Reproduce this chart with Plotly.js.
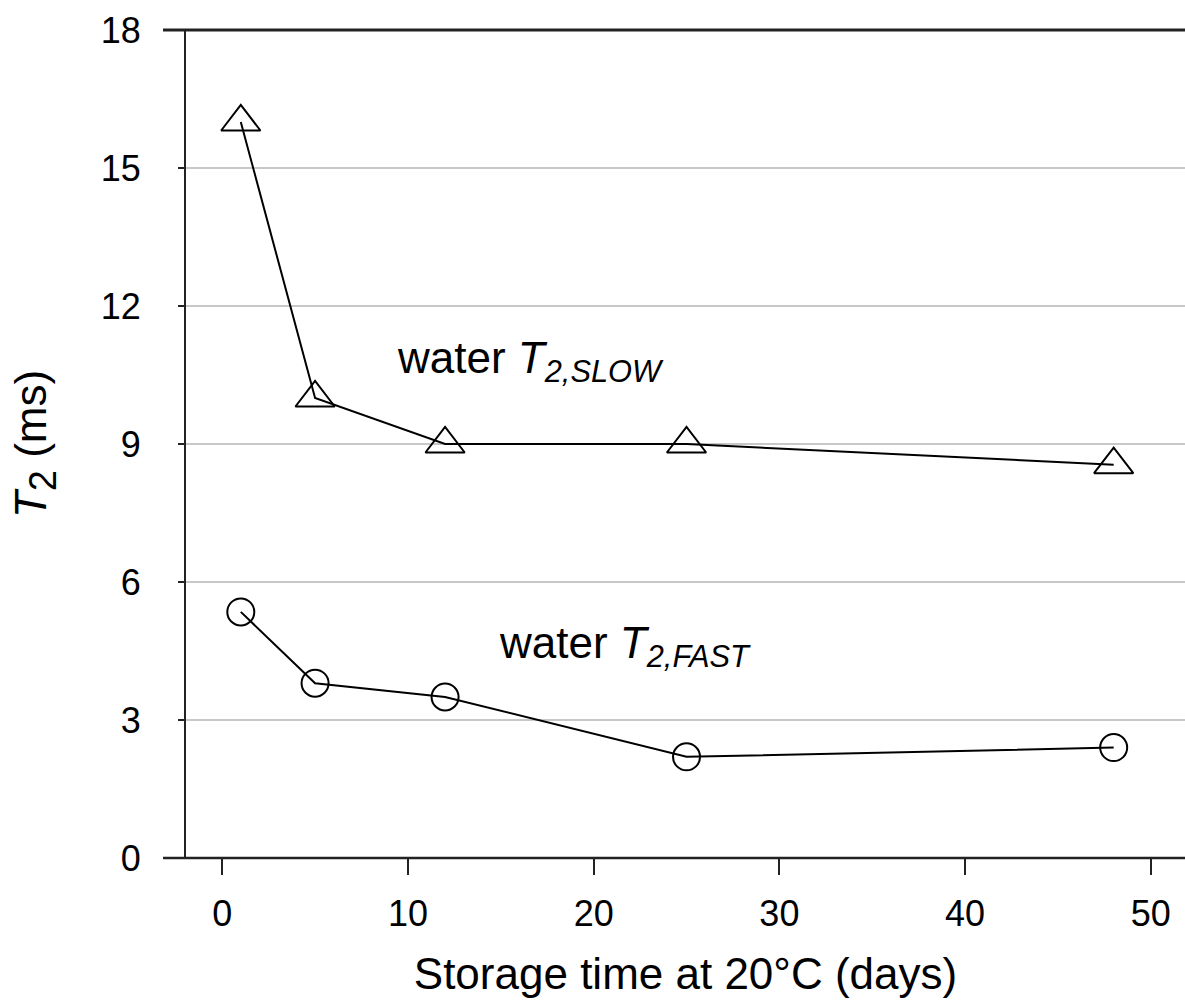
<!DOCTYPE html>
<html>
<head>
<meta charset="utf-8">
<script src="https://cdn.plot.ly/plotly-3.0.1.min.js"></script>
<style>html,body{margin:0;padding:0;background:#fff;}#chart{width:1185px;height:1008px;}</style>
</head>
<body>
<div id="chart"></div>
<script>
const days = [1, 5, 12, 25, 48];
const t2Slow = [16.0, 10.0, 9.0, 9.0, 8.55];
const t2Fast = [5.35, 3.8, 3.5, 2.2, 2.4];
const yTicks = [0, 3, 6, 9, 12, 15, 18];
const xTicks = [0, 10, 20, 30, 40, 50];

const FONT = 'Liberation Sans, Arial, sans-serif';

const traces = [
  {
    x: days, y: t2Slow, type: 'scatter', mode: 'lines+markers',
    line: {color: '#000', width: 2},
    marker: {symbol: 'triangle-up-open', size: 34, color: '#000', line: {width: 2, color: '#000'}},
    showlegend: false, hoverinfo: 'skip'
  },
  {
    x: days, y: t2Fast, type: 'scatter', mode: 'lines+markers',
    line: {color: '#000', width: 2},
    marker: {symbol: 'circle-open', size: 27, color: '#000', line: {width: 2, color: '#000'}},
    showlegend: false, hoverinfo: 'skip'
  }
];

const layout = {
  width: 1185, height: 1008,
  margin: {l: 186, r: 0, t: 30, b: 150},
  paper_bgcolor: '#fff', plot_bgcolor: '#fff',
  font: {family: FONT, color: '#000', size: 36},
  xaxis: {
    range: [-1.95, 51.84],
    tickvals: xTicks, ticktext: xTicks.map(String),
    ticks: 'outside', ticklen: 16, tickwidth: 2, tickcolor: '#222',
    showgrid: false, zeroline: false, showline: false,
    tickfont: {family: FONT, size: 36, color: '#000'},
    ticklabelstandoff: 8,
    title: {text: 'Storage time at 20°C (days)', font: {family: FONT, size: 44, color: '#000'}, standoff: 24},
    automargin: false
  },
  yaxis: {
    range: [0, 18],
    tickvals: yTicks, ticktext: yTicks.map(String),
    ticks: 'outside', ticklen: 6, tickwidth: 2, tickcolor: '#222',
    showgrid: true, gridcolor: '#c8c8c8', gridwidth: 2,
    zeroline: false, showline: true, linecolor: '#222', linewidth: 2,
    tickfont: {family: FONT, size: 36, color: '#000'},
    ticklabelstandoff: 30,
    title: {text: '<i>T</i><sub><span style="font-size:38px">2</span></sub> (ms)', font: {family: FONT, size: 44, color: '#000'}, standoff: 40},
    automargin: false
  },
  annotations: [
    {x: 9.3, y: 10.8, xref: 'x', yref: 'y', xanchor: 'left', yanchor: 'middle', showarrow: false,
     text: 'water <i>T<sub>2,SLOW</sub></i>', font: {family: FONT, size: 44, color: '#000'}},
    {x: 14.8, y: 4.6, xref: 'x', yref: 'y', xanchor: 'left', yanchor: 'middle', showarrow: false,
     text: 'water <i>T<sub>2,FAST</sub></i>', font: {family: FONT, size: 44, color: '#000'}}
  ],
  shapes: [
    {type: 'line', xref: 'paper', yref: 'paper', x0: -0.023, x1: 1, y0: 0, y1: 0, line: {color: '#222', width: 2.5}},
    {type: 'line', xref: 'paper', yref: 'paper', x0: -0.023, x1: 1, y0: 1, y1: 1, line: {color: '#222', width: 3}}
  ]
};

Plotly.newPlot('chart', traces, layout, {staticPlot: true, displayModeBar: false});
</script>
</body>
</html>
